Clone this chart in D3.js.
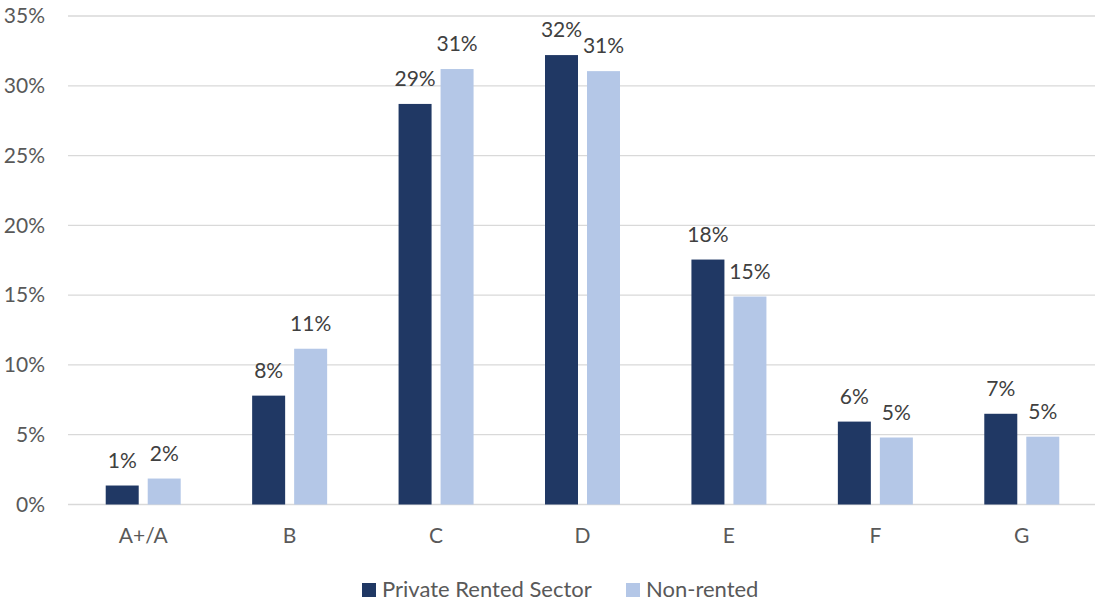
<!DOCTYPE html>
<html>
<head>
<meta charset="utf-8">
<script src="https://cdn.jsdelivr.net/npm/d3@7"></script>
<style>
  html, body { margin: 0; padding: 0; background: #fff; }
  svg { display: block; font-family: Lato, "Open Sans", sans-serif; }
</style>
</head>
<body>
<svg id="chart" width="1097" height="603"></svg>
<script>
// EPC band distribution by tenure
const categories = ["A+/A", "B", "C", "D", "E", "F", "G"];
const seriesNames = ["Private Rented Sector", "Non-rented"];
const privateRented = [0.0136, 0.078, 0.287, 0.322, 0.1755, 0.0594, 0.065];
const nonRented     = [0.0186, 0.1116, 0.312, 0.3105, 0.149, 0.048, 0.0486];
const yTicks = [0, 0.05, 0.10, 0.15, 0.20, 0.25, 0.30, 0.35];
const colors = ["#203864", "#B4C7E7"];

const svg = d3.select("#chart");
const margin = { left: 70, right: 2, top: 16, bottom: 98.5 };
const W = 1097, H = 603;
const FS = 21;

const x = d3.scaleBand().domain(categories)
  .range([margin.left, W - margin.right]).paddingInner(0).paddingOuter(0);
const y = d3.scaleLinear().domain([0, 0.35]).range([H - margin.bottom, margin.top]);
const barW = 33, gap = 9;
const xs = d3.scaleOrdinal().domain(seriesNames)
  .range([-(barW + gap / 2) , gap / 2]);

// gridlines
svg.append("g").selectAll("line").data(yTicks).join("line")
  .attr("x1", 68).attr("x2", W - 2)
  .attr("y1", d => y(d)).attr("y2", d => y(d))
  .attr("stroke", "#d9d9d9").attr("stroke-width", 1.3);

// y axis labels
const fmt = d3.format(".0%");
const yAxis = d3.axisLeft(y).tickValues(yTicks).tickFormat(fmt).tickSize(0).tickPadding(0);
const yg = svg.append("g").attr("transform", "translate(45,0)").call(yAxis);
yg.select(".domain").remove();
yg.selectAll("text").attr("fill", "#595959").attr("font-size", FS)
  .attr("font-family", "Lato, sans-serif");

// x axis labels
const xAxis = d3.axisBottom(x).tickSize(0).tickPadding(0);
const xg = svg.append("g").attr("transform", `translate(0,${y(0) + 24})`).call(xAxis);
xg.select(".domain").remove();
xg.selectAll("text").attr("fill", "#595959").attr("font-size", FS)
  .attr("font-family", "Lato, sans-serif");

// bars
const rows = categories.map((c, i) => ({
  cat: c,
  vals: [
    { s: seriesNames[0], v: privateRented[i] },
    { s: seriesNames[1], v: nonRented[i] }
  ]
}));

const groups = svg.append("g").selectAll("g").data(rows).join("g")
  .attr("transform", d => `translate(${x(d.cat) + x.bandwidth() / 2},0)`);

groups.selectAll("rect").data(d => d.vals).join("rect")
  .attr("x", d => xs(d.s))
  .attr("width", barW)
  .attr("y", d => y(d.v))
  .attr("height", d => y(0) - y(d.v))
  .attr("fill", (d, i) => colors[i]);

groups.selectAll("text.lbl").data(d => d.vals).join("text")
  .attr("class", "lbl")
  .attr("x", d => xs(d.s) + barW / 2)
  .attr("y", d => y(d.v) - 18)
  .attr("text-anchor", "middle")
  .attr("fill", "#404040")
  .attr("font-size", FS)
  .text(d => fmt(d.v));

// legend
const legend = svg.append("g").attr("transform", "translate(362,583)");
const items = [{ x: 0 }, { x: 264 }];
seriesNames.forEach((name, i) => {
  const g = legend.append("g").attr("transform", `translate(${items[i].x},0)`);
  g.append("rect").attr("width", 14).attr("height", 14).attr("fill", colors[i]);
  g.append("text").attr("x", 20).attr("y", 14).attr("fill", "#595959")
    .attr("font-size", 22).text(name);
});
</script>
</body>
</html>
